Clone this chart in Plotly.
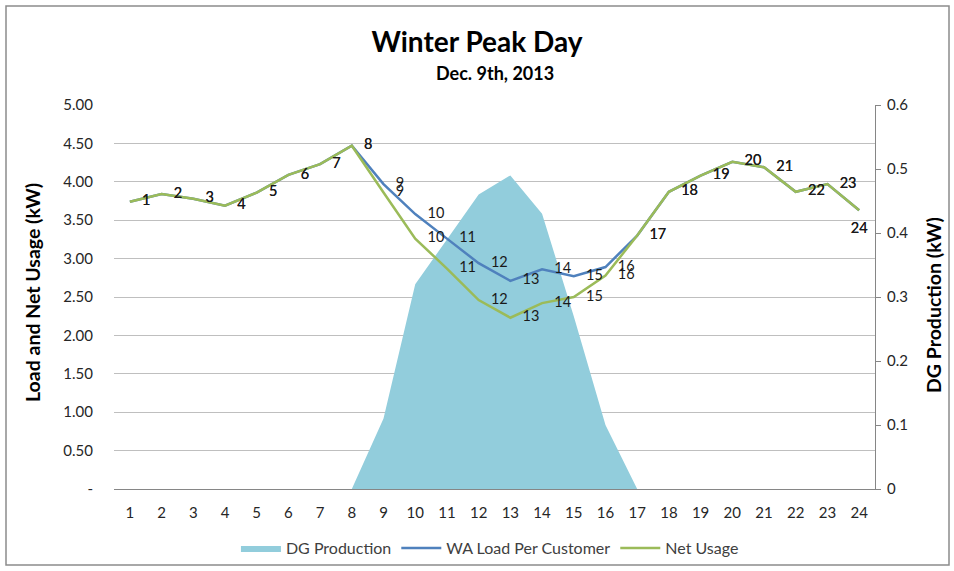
import plotly.graph_objects as go

hours = list(range(1, 25))
hour_labels = [str(h) for h in hours]

dg_production = [0, 0, 0, 0, 0, 0, 0, 0, 0.11, 0.32, 0.39, 0.46, 0.49, 0.43,
                 0.27, 0.10, 0, 0, 0, 0, 0, 0, 0, 0]
wa_load = [3.74, 3.84, 3.78, 3.69, 3.86, 4.09, 4.23, 4.47, 3.97, 3.58, 3.26, 2.94,
           2.71, 2.86, 2.77, 2.89, 3.30, 3.87, 4.08, 4.26, 4.19, 3.87, 3.97, 3.63]
net_usage = [3.74, 3.84, 3.78, 3.69, 3.86, 4.09, 4.23, 4.47, 3.86, 3.26, 2.87, 2.46,
             2.23, 2.42, 2.50, 2.78, 3.30, 3.87, 4.08, 4.26, 4.19, 3.87, 3.97, 3.63]

left_tickvals = [0, 0.5, 1, 1.5, 2, 2.5, 3, 3.5, 4, 4.5, 5]
left_ticktext = ["-", "0.50", "1.00", "1.50", "2.00", "2.50", "3.00", "3.50", "4.00", "4.50", "5.00"]
right_tickvals = [0, 0.1, 0.2, 0.3, 0.4, 0.5, 0.6]
right_ticktext = ["0", "0.1", "0.2", "0.3", "0.4", "0.5", "0.6"]

FONT = "Lato, 'Open Sans', sans-serif"
TICK_COLOR = "#262626"
LABEL_FONT = dict(family=FONT, size=14.5, color="#1a1a1a")
label_positions = ["middle right"] * 23 + ["bottom center"]

fig = go.Figure()

fig.add_trace(go.Scatter(
    x=hours, y=dg_production, name="DG Production", mode="lines",
    line=dict(width=0, color="#92CDDC"), fill="tozeroy", fillcolor="#92CDDC",
    yaxis="y",
))
fig.add_trace(go.Scatter(
    x=hours, y=wa_load, name="WA Load Per Customer", mode="lines",
    line=dict(width=2.5, color="#4F81BD"), yaxis="y2",
))
fig.add_trace(go.Scatter(
    x=hours, y=net_usage, name="Net Usage", mode="lines",
    line=dict(width=2.5, color="#9BBB59"), yaxis="y2",
))
# data labels (hour numbers) next to each point
for series in (wa_load, net_usage):
    fig.add_trace(go.Scatter(
        x=hours, y=series, mode="markers+text", showlegend=False,
        marker=dict(size=18, opacity=0), text=hour_labels,
        textposition=label_positions, textfont=LABEL_FONT,
        cliponaxis=False, yaxis="y2", hoverinfo="skip",
    ))

fig.update_layout(
    width=954, height=571,
    margin=dict(l=114, r=79, t=105, b=82, autoexpand=False),
    paper_bgcolor="white", plot_bgcolor="white",
    font=dict(family=FONT, size=15, color=TICK_COLOR),
    title=dict(text="<b>Winter Peak Day</b>", x=0.5, xanchor="center",
               y=1 - 42 / 571, yanchor="middle",
               font=dict(family=FONT, size=28, color="#000000")),
    showlegend=True,
    legend=dict(orientation="h", x=0.494, xanchor="center",
                yref="container", y=1 - 548 / 571, yanchor="middle",
                bgcolor="rgba(0,0,0,0)",
                font=dict(family=FONT, size=16, color="#404040"),
                itemwidth=40, traceorder="normal"),
    xaxis=dict(
        range=[0.5, 24.5], tickmode="array", tickvals=hours, ticktext=hour_labels,
        showgrid=False, zeroline=False, showline=True, linecolor="#868686", linewidth=1,
        ticks="", ticklabelstandoff=10, tickfont=dict(family=FONT, size=15, color=TICK_COLOR),
    ),
    yaxis=dict(
        range=[0, 0.6], side="right", tickmode="array", tickvals=right_tickvals,
        ticktext=right_ticktext, showgrid=False, zeroline=False, showline=True,
        linecolor="#868686", linewidth=1, ticks="outside", ticklen=5, tickcolor="#868686",
        ticklabelstandoff=3,
        tickfont=dict(family=FONT, size=15, color=TICK_COLOR),
    ),
    yaxis2=dict(
        range=[0, 5], side="left", overlaying="y", tickmode="array",
        tickvals=left_tickvals, ticktext=left_ticktext, showgrid=True,
        gridcolor="#BFBFBF", gridwidth=1, zeroline=False, showline=False,
        ticks="", ticklabelstandoff=20,
        tickfont=dict(family=FONT, size=15, color=TICK_COLOR),
    ),
    annotations=[
        dict(text="<b>Dec. 9th, 2013</b>", xref="paper", yref="paper",
             x=0.5, y=(489 - 73) / 384, xanchor="center", yanchor="middle",
             showarrow=False, font=dict(family=FONT, size=18, color="#000000")),
        dict(text="<b>Load and Net Usage (kW)</b>", xref="paper", yref="paper",
             x=(32 - 114) / 761, y=(489 - 293) / 384, xanchor="center", yanchor="middle",
             textangle=-90, showarrow=False,
             font=dict(family=FONT, size=19.5, color="#000000")),
        dict(text="<b>DG Production (kW)</b>", xref="paper", yref="paper",
             x=(933 - 114) / 761, y=(489 - 305) / 384, xanchor="center", yanchor="middle",
             textangle=-90, showarrow=False,
             font=dict(family=FONT, size=19.5, color="#000000")),
    ],
    shapes=[
        dict(type="rect", xref="paper", yref="paper",
             x0=(6 - 114) / 761, x1=(949 - 114) / 761,
             y0=(489 - 565) / 384, y1=(489 - 6) / 384,
             line=dict(color="#8C8C8C", width=1.5), fillcolor="rgba(0,0,0,0)", layer="below"),
    ],
)

fig.write_html("out.html", config={"displayModeBar": False},
               post_script="document.body.style.margin='0px';")
